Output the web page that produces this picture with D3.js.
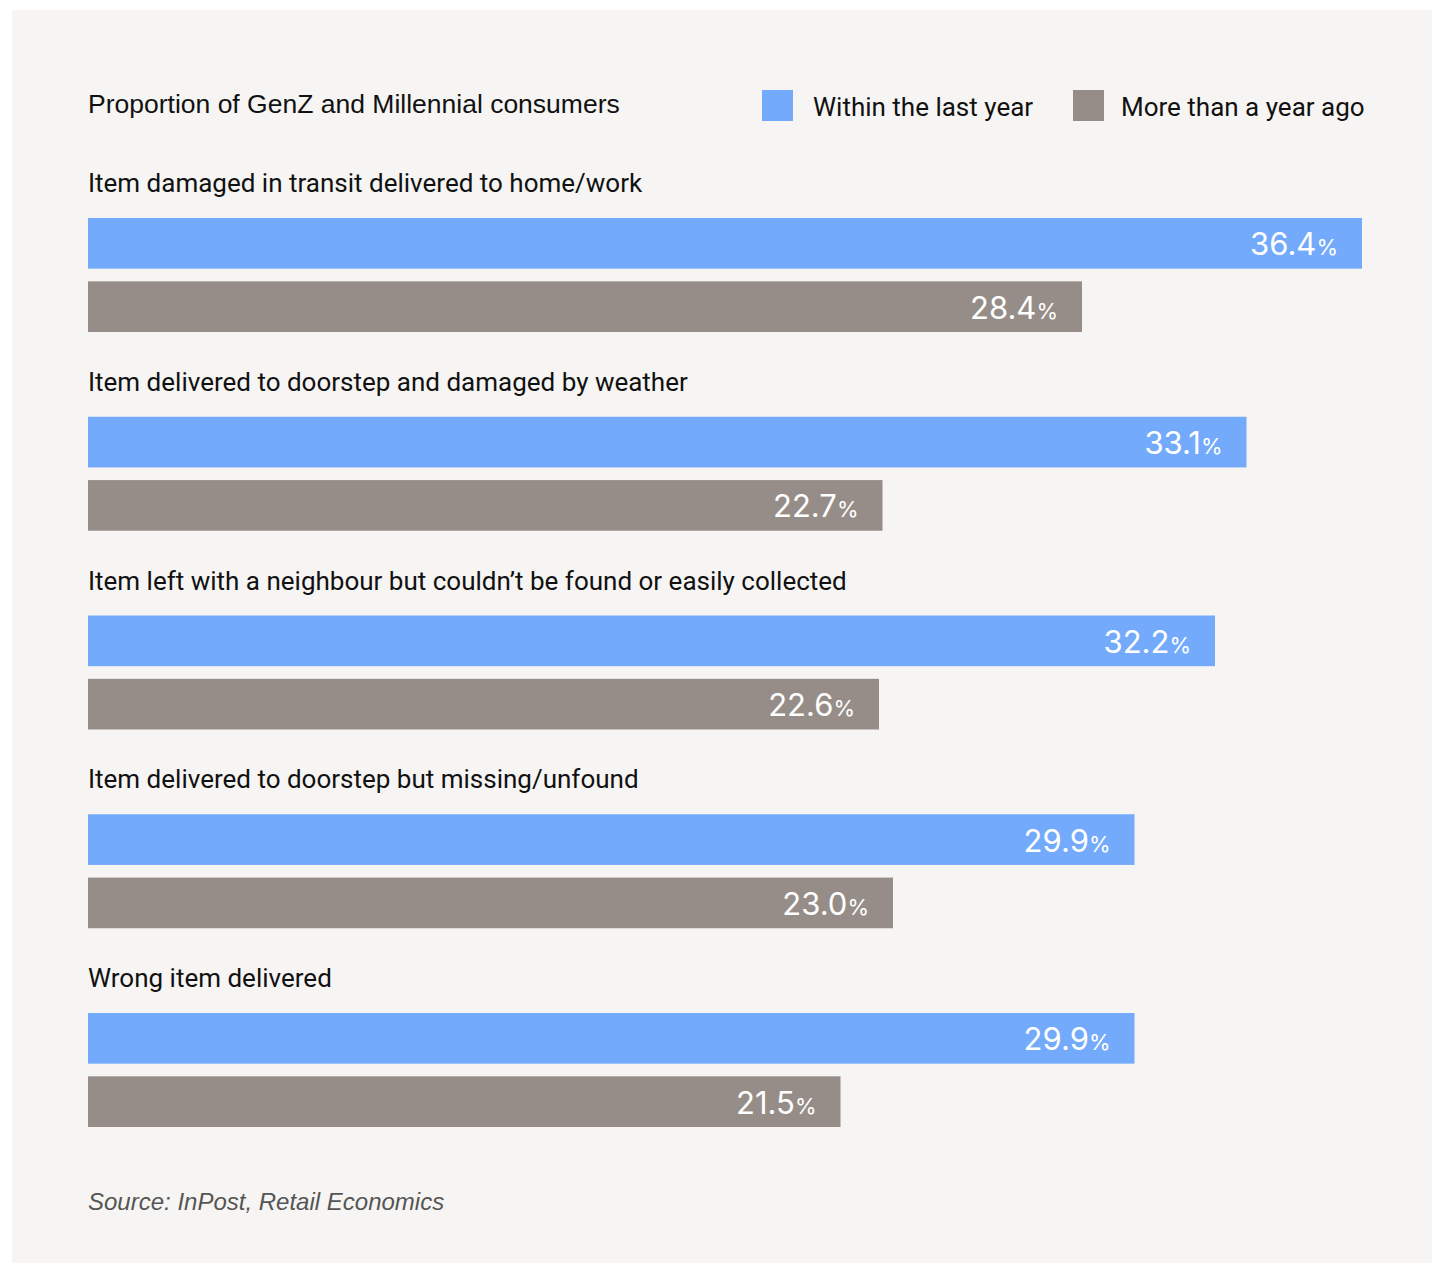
<!DOCTYPE html>
<html>
<head>
<meta charset="utf-8">
<script src="https://cdn.jsdelivr.net/npm/d3@7"></script>
<style>
  html, body { margin: 0; padding: 0; background: #ffffff; }
  svg { display: block; }
</style>
</head>
<body>
<svg id="chart" width="1432" height="1263"></svg>
<script>
const title = "Proportion of GenZ and Millennial consumers";
const source = "Source: InPost, Retail Economics";
const categories = [
  "Item damaged in transit delivered to home/work",
  "Item delivered to doorstep and damaged by weather",
  "Item left with a neighbour but couldn\u2019t be found or easily collected",
  "Item delivered to doorstep but missing/unfound",
  "Wrong item delivered"
];
const seriesNames = ["Within the last year", "More than a year ago"];
const withinLastYear = [36.4, 33.1, 32.2, 29.9, 29.9];
const moreThanYearAgo = [28.4, 22.7, 22.6, 23.0, 21.5];
const colors = ["#73aafb", "#968d88"];

const svg = d3.select("#chart");
const W = 1432, H = 1263;

// panel
svg.append("rect").attr("x", 12).attr("y", 10).attr("width", W - 12).attr("height", H - 10)
  .attr("fill", "#f6f5f3");

const data = categories.map((c, i) => ({
  category: c,
  values: [
    { series: seriesNames[0], value: withinLastYear[i] },
    { series: seriesNames[1], value: moreThanYearAgo[i] }
  ]
}));

const x = d3.scaleLinear().domain([0, 36.4]).range([88, 1362]);
const y = d3.scaleBand().domain(categories).range([218, 218 + 5 * 198.75]).paddingInner(0).paddingOuter(0);
const ySub = d3.scaleBand().domain(seriesNames).range([0, 114]).paddingInner(0.2);
const color = d3.scaleOrdinal().domain(seriesNames).range(colors);

// title
svg.append("text").attr("x", 88).attr("y", 113)
  .attr("font-family", "'Liberation Sans', Arial, sans-serif")
  .attr("font-size", 26.5).attr("fill", "#111")
  .text(title);

// legend
const legendPos = [{ sx: 762, tx: 813 }, { sx: 1073, tx: 1121 }];
const legend = svg.append("g");
seriesNames.forEach((s, i) => {
  legend.append("rect").attr("x", legendPos[i].sx).attr("y", 90).attr("width", 31).attr("height", 31)
    .attr("fill", color(s));
  legend.append("text").attr("x", legendPos[i].tx).attr("y", 115.5)
    .attr("font-family", "Roboto, sans-serif").attr("font-size", 26).attr("fill", "#111")
    .text(s);
});

const groups = svg.selectAll("g.grp").data(data).join("g").attr("class", "grp")
  .attr("transform", d => `translate(0,${y(d.category)})`);

groups.append("text").attr("x", 88).attr("y", -26)
  .attr("font-family", "Roboto, sans-serif").attr("font-size", 26).attr("fill", "#111")
  .text(d => d.category);

groups.selectAll("rect.bar").data(d => d.values).join("rect").attr("class", "bar")
  .attr("x", x(0)).attr("y", d => ySub(d.series))
  .attr("width", d => x(d.value) - x(0)).attr("height", ySub.bandwidth())
  .attr("fill", d => color(d.series));

const lbl = groups.selectAll("text.val").data(d => d.values).join("text").attr("class", "val")
  .attr("x", d => x(d.value) - 24)
  .attr("y", d => ySub(d.series) + ySub.bandwidth() / 2 + 12)
  .attr("text-anchor", "end")
  .attr("font-family", "Inter, sans-serif").attr("fill", "#ffffff");
lbl.append("tspan").attr("font-size", 31).text(d => d.value.toFixed(1));
lbl.append("tspan").attr("font-size", 22).text("%");

// source
svg.append("text").attr("x", 88).attr("y", 1210)
  .attr("font-family", "'Liberation Sans', Arial, sans-serif").attr("font-style", "italic")
  .attr("font-size", 24).attr("fill", "#555")
  .text(source);
</script>
</body>
</html>
